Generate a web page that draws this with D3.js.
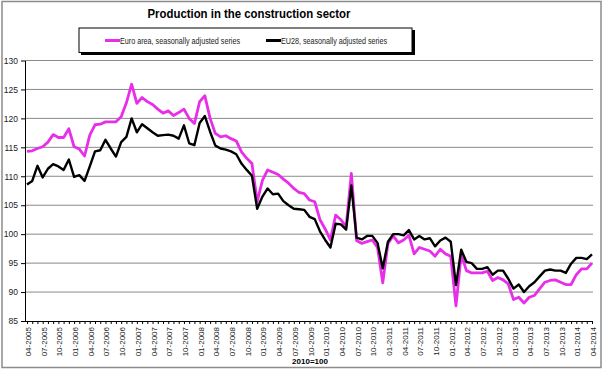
<!DOCTYPE html>
<html>
<head>
<meta charset="utf-8">
<script src="https://cdn.jsdelivr.net/npm/d3@7"></script>
<style>
  body { margin: 0; background: #fff; }
  svg { display: block; font-family: "Liberation Sans", Arial, sans-serif; }
</style>
</head>
<body>
<div id="chart"></div>
<script>
// Monthly index, 2010=100, from 04-2005 to 04-2014
var euroArea = [
  114.3, 114.4, 114.8, 115.1, 115.9, 117.2, 116.7, 116.7, 118.2, 115.1, 114.7, 113.5,
  117.1, 118.9, 119.0, 119.4, 119.4, 119.4, 120.3, 122.7, 125.9, 122.6, 123.6, 122.9,
  122.4, 121.6, 120.9, 121.3, 120.5, 121.0, 121.6, 120.0, 119.1, 122.9, 123.9, 120.0,
  117.4, 116.8, 117.0, 116.5, 116.1, 114.2, 113.1, 112.2, 105.6, 109.3, 111.1, 110.7,
  110.3, 109.5, 108.8, 107.9, 107.2, 107.0, 105.9, 105.6, 102.5, 100.9, 99.0, 103.3,
  102.5, 101.3, 110.5, 98.9, 98.4, 98.7, 99.0, 97.7, 91.6, 98.4, 99.7, 98.5,
  99.0, 99.8, 96.6, 97.7, 97.4, 97.1, 96.2, 97.4, 96.6, 96.2, 87.6, 96.5,
  93.7, 93.3, 93.3, 93.3, 93.6, 92.0, 92.5, 92.1, 91.4, 88.7, 89.1, 88.1,
  89.1, 89.4, 90.6, 91.7, 92.0, 92.1, 91.7, 91.3, 91.3, 93.0, 94.0, 94.0,
  95.0
];
var eu28 = [
  108.6, 109.2, 111.8, 109.8, 111.3, 112.1, 111.7, 111.1, 112.9, 109.9, 110.2, 109.2,
  111.7, 114.3, 114.5, 116.3, 114.8, 113.4, 115.9, 116.8, 120.0, 117.6, 119.0, 118.3,
  117.6, 117.0, 117.1, 117.2, 117.0, 116.5, 118.8, 115.7, 115.4, 119.2, 120.4, 117.7,
  115.3, 114.8, 114.6, 114.3, 113.8, 112.2, 111.1, 110.1, 104.4, 106.5, 107.9, 106.9,
  107.0, 105.7, 105.0, 104.4, 104.3, 104.2, 103.0, 102.6, 100.5, 99.0, 97.7, 101.8,
  101.7, 100.8, 108.4, 99.4, 99.1, 99.7, 99.7, 98.5, 94.1, 98.7, 100.0, 100.0,
  99.8, 100.7, 99.1, 99.7, 99.1, 99.3, 97.9, 98.9, 99.4, 98.7, 91.2, 97.3,
  95.2, 95.0, 94.0, 94.0, 94.3, 93.0, 93.7, 93.7, 92.3, 90.6, 91.3, 90.0,
  91.0, 91.7, 92.7, 93.7, 93.9, 93.7, 93.7, 93.3, 94.9, 95.9, 95.9, 95.7,
  96.5
];
var tickLabels = [
  "04-2005", "07-2005", "10-2005", "01-2006", "04-2006", "07-2006", "10-2006",
  "01-2007", "04-2007", "07-2007", "10-2007", "01-2008", "04-2008", "07-2008", "10-2008",
  "01-2009", "04-2009", "07-2009", "10-2009", "01-2010", "04-2010", "07-2010", "10-2010",
  "01-2011", "04-2011", "07-2011", "10-2011", "01-2012", "04-2012", "07-2012", "10-2012",
  "01-2013", "04-2013", "07-2013", "10-2013", "01-2014", "04-2014"
];
var yTicks = [85, 90, 95, 100, 105, 110, 115, 120, 125, 130];
var seriesNames = ["Euro area, seasonally adjusted series", "EU28, seasonally adjusted series"];
var colors = ["#e82ee8", "#000000"];

// one category per month
var months = d3.timeMonth.range(new Date(2005, 3, 1), new Date(2014, 4, 1))
  .map(d3.timeFormat("%m-%Y"));

var width = 604, height = 371;
var svg = d3.select("#chart").append("svg")
  .attr("width", width)
  .attr("height", height);

// outer frame
svg.append("rect")
  .attr("x", 2).attr("y", 1.5)
  .attr("width", 599).attr("height", 366)
  .attr("fill", "none")
  .attr("stroke", "#8c8c8c")
  .attr("stroke-width", 1.5);

var x = d3.scalePoint().domain(months).range([27, 592]);
var y = d3.scaleLinear().domain([85, 130]).range([321, 60.5]);

// title
svg.append("text")
  .attr("x", 249).attr("y", 18)
  .attr("text-anchor", "middle")
  .attr("textLength", 203)
  .attr("lengthAdjust", "spacingAndGlyphs")
  .style("font-size", "13px")
  .style("font-weight", "bold")
  .text("Production in the construction sector");

// gridlines
svg.append("g")
  .selectAll("line")
  .data(yTicks.filter(function(d) { return d > 85; }))
  .enter().append("line")
  .attr("x1", 25).attr("x2", 593)
  .attr("y1", function(d) { return y(d); })
  .attr("y2", function(d) { return y(d); })
  .attr("stroke", "#8a8a8a")
  .attr("stroke-width", 1);

// y axis
var yAxis = svg.append("g")
  .attr("transform", "translate(25,0)")
  .call(d3.axisLeft(y).tickValues(yTicks).tickSize(4).tickSizeOuter(0).tickPadding(3));
yAxis.select(".domain").attr("stroke", "#000");
yAxis.selectAll("text")
  .style("font-size", "8.5px")
  .style("font-family", "Liberation Sans, Arial, sans-serif")
  .attr("fill", "#222");

// x axis: monthly tick marks, labels each quarter
var xAxis = svg.append("g")
  .attr("transform", "translate(0,321)")
  .call(d3.axisBottom(x).tickValues(months).tickSize(3).tickSizeOuter(0).tickFormat(""));
xAxis.select(".domain").attr("d", "M25,0.5H593").attr("stroke", "#000");

svg.append("g")
  .selectAll("text")
  .data(tickLabels)
  .enter().append("text")
  .attr("transform", function(d) { return "translate(" + (x(d) + 4) + ",327) rotate(-90)"; })
  .attr("text-anchor", "end")
  .style("font-size", "8px")
  .attr("fill", "#222")
  .text(function(d) { return d; });

svg.append("text")
  .attr("x", 310).attr("y", 364)
  .attr("text-anchor", "middle")
  .style("font-size", "8px")
  .style("font-weight", "bold")
  .text("2010=100");

// lines
var line = d3.line()
  .x(function(d, i) { return x(months[i]); })
  .y(function(d) { return y(d); });

svg.append("path")
  .datum(euroArea)
  .attr("d", line)
  .attr("fill", "none")
  .attr("stroke", colors[0])
  .attr("stroke-width", 2.8)
  .attr("stroke-linejoin", "round");

svg.append("path")
  .datum(eu28)
  .attr("d", line)
  .attr("fill", "none")
  .attr("stroke", colors[1])
  .attr("stroke-width", 2.4)
  .attr("stroke-linejoin", "round");

// legend box with shadow
var legend = svg.append("g");
legend.append("rect")
  .attr("x", 81).attr("y", 30)
  .attr("width", 334).attr("height", 25)
  .attr("fill", "#000");
legend.append("rect")
  .attr("x", 79).attr("y", 28)
  .attr("width", 333).attr("height", 24.5)
  .attr("fill", "#fff")
  .attr("stroke", "#000")
  .attr("stroke-width", 1);

var legendItems = [
  { x1: 105, x2: 120, tx: 120, tw: 120 },
  { x1: 266, x2: 281, tx: 281, tw: 106 }
];
legendItems.forEach(function(it, i) {
  legend.append("line")
    .attr("x1", it.x1).attr("x2", it.x2)
    .attr("y1", 40.5).attr("y2", 40.5)
    .attr("stroke", colors[i])
    .attr("stroke-width", 3);
  legend.append("text")
    .attr("x", it.tx).attr("y", 43.5)
    .attr("textLength", it.tw)
    .attr("lengthAdjust", "spacingAndGlyphs")
    .style("font-size", "9px")
    .attr("fill", "#222")
    .text(seriesNames[i]);
});
</script>
</body>
</html>
